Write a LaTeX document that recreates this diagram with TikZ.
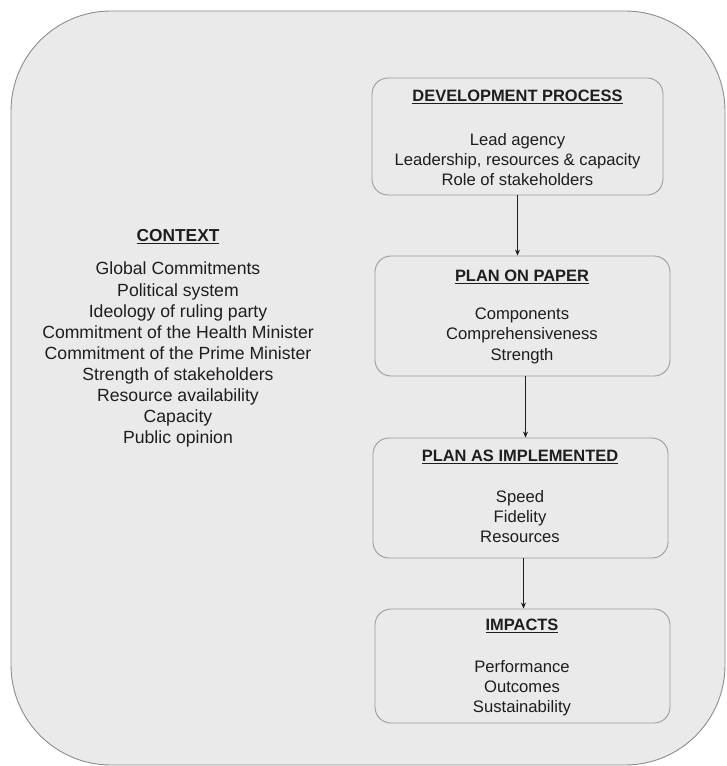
\documentclass[tikz,border=0pt]{standalone}
\usepackage{fontspec}
\setmainfont{Liberation Sans}
\usetikzlibrary{arrows.meta}
\definecolor{bgfill}{HTML}{EAEAEA}
\definecolor{edgegray}{HTML}{8C8C8C}
\definecolor{ink}{HTML}{1E1E1E}
\tikzset{
  outerbox/.style={draw=edgegray, fill=bgfill, line width=0.9bp, rounded corners=100bp},
  stagebox/.style={draw=edgegray!85, fill=bgfill, line width=0.9bp, rounded corners=16bp, inner sep=0pt},
  titletext/.style={text=ink, inner sep=0pt, font=\fontsize{16.5}{20}\selectfont\bfseries},
  bodytext/.style={text=ink, inner sep=0pt, align=center, anchor=north, font=\fontsize{16.7}{20.2}\selectfont},
  ctxtitle/.style={text=ink, inner sep=0pt, font=\fontsize{17.4}{21}\selectfont\bfseries},
  ctxbody/.style={text=ink, inner sep=0pt, align=center, anchor=north, font=\fontsize{17.7}{21.2}\selectfont},
  flow/.style={draw=ink, line width=1.1bp, -{Stealth[length=6bp,width=5bp]}}
}
\begin{document}
\begin{tikzpicture}[x=1bp,y=-1bp]
\useasboundingbox (0,0) rectangle (727,766);
\draw[outerbox] (11,11) rectangle (725,765);

\node[stagebox, minimum width=291bp, minimum height=117bp] (b1) at (517.5,136.5) {};
\node[stagebox, minimum width=295bp, minimum height=120bp] (b2) at (522.5,316) {};
\node[stagebox, minimum width=295bp, minimum height=120bp] (b3) at (520.5,498) {};
\node[stagebox, minimum width=295bp, minimum height=114bp] (b4) at (522.5,666) {};

\node[titletext] (t1) at (517.5,97) {\underline{DEVELOPMENT PROCESS}};
\node[bodytext] (d1) at (517.5,133) {Lead agency\\Leadership, resources \& capacity\\Role of stakeholders};

\node[titletext] (t2) at (522,277) {\underline{PLAN ON PAPER}};
\node[bodytext] (d2) at (522,308) {Components\\Comprehensiveness\\Strength};

\node[titletext] (t3) at (520,457) {\underline{PLAN AS IMPLEMENTED}};
\node[bodytext] (d3) at (520,490) {Speed\\Fidelity\\Resources};

\node[titletext] (t4) at (522,626) {\underline{IMPACTS}};
\node[bodytext] (d4) at (522,660) {Performance\\Outcomes\\Sustainability};

\node[ctxtitle] (ct) at (178,237) {\underline{CONTEXT}};
\node[ctxbody] (cb) at (178,262) {Global Commitments\\Political system\\Ideology of ruling party\\Commitment of the Health Minister\\Commitment of the Prime Minister\\Strength of stakeholders\\Resource availability\\Capacity\\Public opinion};

\draw[flow] (b1.south) -- (b1.south |- b2.north);
\draw[flow] ([xshift=3bp]b2.south) -- ([xshift=3bp]b2.south |- b3.north);
\draw[flow] ([xshift=3bp]b3.south) -- ([xshift=3bp]b3.south |- b4.north);
\end{tikzpicture}
\end{document}
